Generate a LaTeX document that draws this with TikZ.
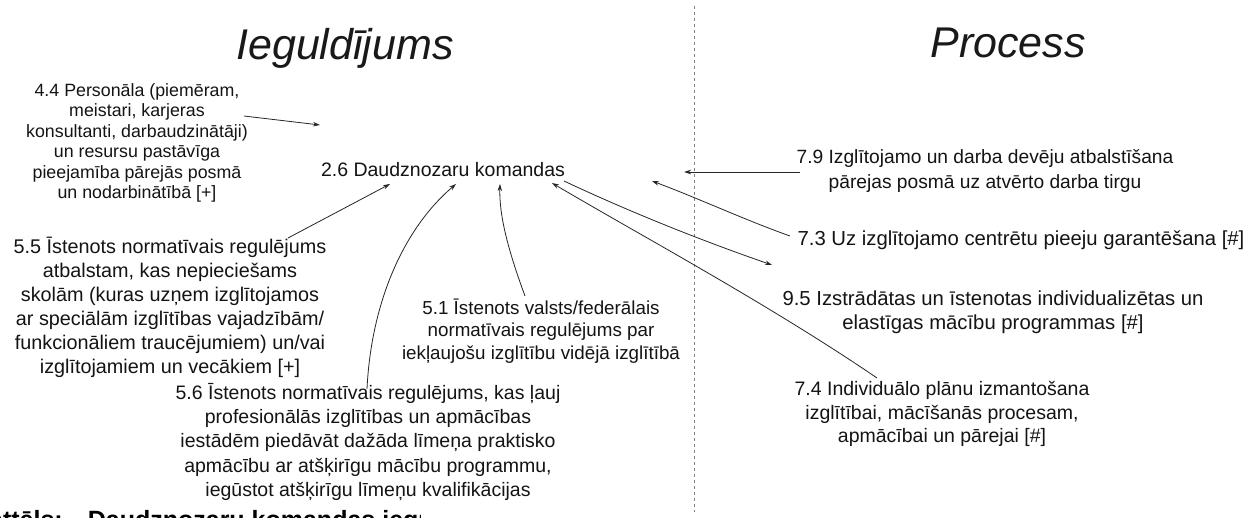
\documentclass[tikz,border=0pt]{standalone}
\usepackage{fontspec}
\setmainfont{Liberation Sans}
\usetikzlibrary{arrows.meta}
\tikzset{
  lbl/.style={align=center, inner sep=0pt, text=black!92, font=\fontsize{19.5}{23.5}\selectfont},
  ttl/.style={inner sep=0pt, text=black!90, font=\fontsize{43}{50}\selectfont\itshape},
  arr/.style={draw=black!85, line width=0.8pt, -{Stealth[length=7pt,width=4.5pt]}},
  sep/.style={draw=black!50, line width=1pt, dash pattern=on 3pt off 3pt}
}
\begin{document}
\begin{tikzpicture}[x=1pt,y=-1pt]
\useasboundingbox (0,0) rectangle (1255,517);
\fill[white] (0,0) rectangle (1255,517);

% titles
\node[ttl] (tin) at (345,48) {Ieguldījums};
\node[ttl] (tpr) at (1008,43) {Process};

% separator
\coordinate (sepT) at (694,6);
\coordinate (sepB) at (694,512);
\draw[sep] (sepT) -- (sepB);

% centre
\node[lbl] (c26) at (443,170) {2.6 Daudznozaru komandas};

% left side
\node[lbl, font=\fontsize{17.8}{20.5}\selectfont] (n44) at (137,143) {4.4 Personāla (piemēram,\\meistari, karjeras\\konsultanti, darbaudzinātāji)\\un resursu pastāvīga\\pieejamība pārejās posmā\\un nodarbinātībā [+]};
\node[lbl, font=\fontsize{19.8}{24}\selectfont] (n55) at (170,307) {5.5 Īstenots normatīvais regulējums\\atbalstam, kas nepieciešams\\skolām (kuras uzņem izglītojamos\\ar speciālām izglītības vajadzībām/\\funkcionāliem traucējumiem) un/vai\\izglītojamiem un vecākiem [+]};
\node[lbl, font=\fontsize{18.8}{22.5}\selectfont] (n51) at (541,331) {5.1 Īstenots valsts/federālais\\normatīvais regulējums par\\iekļaujošu izglītību vidējā izglītībā};
\node[lbl, font=\fontsize{19.5}{24.2}\selectfont] (n56) at (368,442) {5.6 Īstenots normatīvais regulējums, kas ļauj\\profesionālās izglītības un apmācības\\iestādēm piedāvāt dažāda līmeņa praktisko\\apmācību ar atšķirīgu mācību programmu,\\iegūstot atšķirīgu līmeņu kvalifikācijas};

% right side
\node[lbl, font=\fontsize{19.2}{25}\selectfont] (n79) at (985,171) {7.9 Izglītojamo un darba devēju atbalstīšana\\pārejas posmā uz atvērto darba tirgu};
\node[lbl, font=\fontsize{20.3}{24}\selectfont] (n73) at (1021,240) {7.3 Uz izglītojamo centrētu pieeju garantēšana [\#]};
\node[lbl, font=\fontsize{20.3}{24.5}\selectfont] (n95) at (993,312) {9.5 Izstrādātas un īstenotas individualizētas un\\elastīgas mācību programmas [\#]};
\node[lbl] (n74) at (942,414) {7.4 Individuālo plānu izmantošana\\izglītībai, mācīšanās procesam,\\apmācībai un pārejai [\#]};

% connector ends
\coordinate (t44) at (244,116);
\coordinate (h44) at (320,125);
\coordinate (t55) at (288,238);
\coordinate (h55) at (390,184);
\coordinate (t56) at (367,389);
\coordinate (h56) at (456,184);
\coordinate (t51) at (525,296);
\coordinate (h51) at (500,184);
\coordinate (h74) at (552,183);
\coordinate (t74) at (877,378);
\coordinate (t95) at (564,181);
\coordinate (h95) at (772,265);
\coordinate (t73) at (790,236);
\coordinate (h73) at (652,181);
\coordinate (t79) at (800,172);
\coordinate (h79) at (684,172);

\draw[arr] (t44) -- (h44);
\draw[arr] (t55) -- (h55);
\draw[arr] (t56) .. controls (371,305) and (402,230) .. (h56);
\draw[arr] (t51) .. controls (508,250) and (499,215) .. (h51);
\draw[arr] (t74) .. controls (770,305) and (640,235) .. (h74);
\draw[arr] (t95) .. controls (630,212) and (700,240) .. (h95);
\draw[arr] (t73) .. controls (745,220) and (700,199) .. (h73);
\draw[arr] (t79) -- (h79);

% clipped caption at the bottom edge
\begin{scope}
\clip (0,500) rectangle (420,517);
\node[anchor=north west, inner sep=0pt, text=black, font=\fontsize{25}{28}\selectfont\bfseries] (cap) at (-11,510) {attēls:\quad Daudznozaru komandas ieguldījums};
\end{scope}
\end{tikzpicture}
\end{document}
